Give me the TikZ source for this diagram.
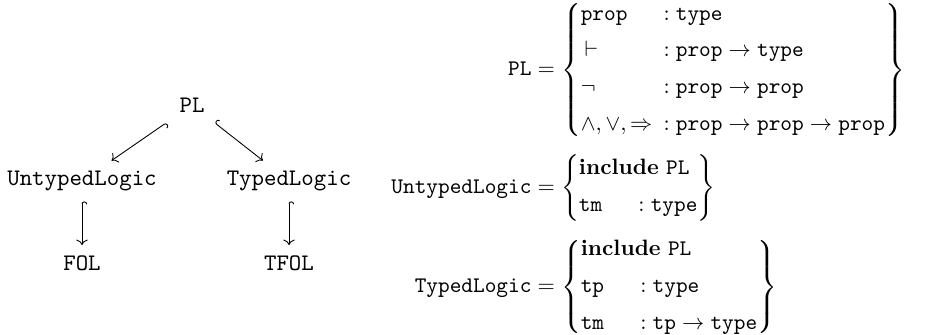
\documentclass[tikz,border=0pt]{standalone}
\usepackage{amsmath}
\usetikzlibrary{arrows.meta}
\newcommand{\colbox}[1]{\makebox[24pt][l]{$\mathtt{#1}$}}
\newcommand{\lhsbox}[1]{\makebox[63pt][r]{$\mathtt{#1}$}}
\begin{document}
\begin{tikzpicture}[x=0.45pt,y=-0.45pt]
\useasboundingbox (0,0) rectangle (947,334);
\tikzset{
  lbl/.style={font=\ttfamily\fontsize{10.67}{13}\selectfont, inner xsep=7pt, inner ysep=4.5pt},
  inc/.style={{Hooks[right]}-To, line width=0.4pt},
  eqn/.style={anchor=west, inner sep=0pt}
}
\node[lbl] (pl) at (192,105) {PL};
\node[lbl] (ul) at (82,181) {UntypedLogic};
\node[lbl] (tl) at (289,181) {TypedLogic};
\node[lbl] (fol) at (82,263) {FOL};
\node[lbl] (tfol) at (289,263) {TFOL};
\draw[inc] (pl) -- (ul);
\draw[inc] (pl) -- (tl);
\draw[inc] (ul) -- (fol);
\draw[inc] (tl) -- (tfol);
\node[eqn] (defpl) at (391,70) {$\lhsbox{PL} = \left\{\begin{array}{@{}l@{\hspace{5pt}}l@{}}
\mathtt{prop} & \mathrel{:}\mathtt{type}\\[4.6pt]
\,\vdash & \mathrel{:}\mathtt{prop}\to\mathtt{type}\\[4.6pt]
\neg & \mathrel{:}\mathtt{prop}\to\mathtt{prop}\\[4.6pt]
\wedge,\vee,\Rightarrow & \mathrel{:}\mathtt{prop}\to\mathtt{prop}\to\mathtt{prop}
\end{array}\right\}$};
\node[eqn] (deful) at (391,188) {$\lhsbox{UntypedLogic} = \left\{\begin{array}{@{}l@{}}
\textbf{include}\ \mathtt{PL}\\[4.6pt]
\colbox{tm}\mathrel{:}\mathtt{type}
\end{array}\right\}$};
\node[eqn] (deftl) at (391,287) {$\lhsbox{TypedLogic} = \left\{\begin{array}{@{}l@{}}
\textbf{include}\ \mathtt{PL}\\[4.6pt]
\colbox{tp}\mathrel{:}\mathtt{type}\\[4.6pt]
\colbox{tm}\mathrel{:}\mathtt{tp}\to\mathtt{type}
\end{array}\right\}$};
\end{tikzpicture}
\end{document}
